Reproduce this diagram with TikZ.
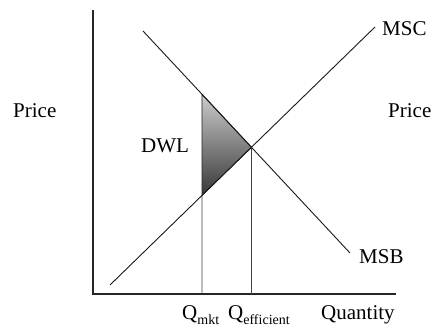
\documentclass[tikz,border=0pt]{standalone}
\usepackage{fontspec}
\setmainfont{Liberation Serif}
\usepackage{tikz}
\usetikzlibrary{positioning}

\newcommand{\lbl}[2]{#1\raisebox{-0.2em}{\fontsize{14}{14}\selectfont #2}}

\begin{document}
\begin{tikzpicture}[
  x=1pt,y=1pt,
  axis/.style={line width=1.2pt,draw=black!85},
  curve/.style={line width=0.9pt,draw=black!90},
  guide/.style={line width=0.9pt,draw=black!75},
  txt/.style={inner sep=0pt,anchor=base west,font=\fontsize{21}{24}\selectfont}
]
  \useasboundingbox (0,0) rectangle (432,331);
  % axes
  \coordinate (o)  at (93,37);
  \coordinate (yt) at (93,321);
  \coordinate (xe) at (396,37);
  \draw[axis] (yt) -- (o) -- (xe);
  % curves
  \coordinate (msc0) at (110,46);
  \coordinate (msc1) at (375,304);
  \coordinate (msb0) at (143,300);
  \coordinate (msb1) at (350,78);
  \coordinate (e) at (intersection of msc0--msc1 and msb0--msb1);
  \coordinate (qm)  at (202,37);
  \coordinate (qmt) at (202,300);
  \coordinate (top) at (intersection of msb0--msb1 and qm--qmt);
  \coordinate (bot) at (intersection of msc0--msc1 and qm--qmt);
  \coordinate (qe) at (e |- o);
  % dead weight loss
  \shade[top color=black!20,bottom color=black!78] (top) -- (e) -- (bot) -- cycle;
  \draw[line width=0.9pt,draw=black!85] (top) -- (e) -- (bot) -- cycle;
  \draw[guide] (qm) -- (bot);
  \draw[guide] (qe) -- (e);
  \draw[curve] (msc0) -- (msc1);
  \draw[curve] (msb0) -- (msb1);
  % labels
  \node[txt] (pl)  at (13,213)  {Price};
  \node[txt] (pr)  at (388,213) {Price};
  \node[txt] (dwl) at (141,178) {DWL};
  \node[txt] (lsc) at (382,295) {MSC};
  \node[txt] (lsb) at (359,67)  {MSB};
  \node[txt] (lqm) at (182,11)  {\lbl{Q}{mkt}};
  \node[txt] (lqe) at (228,11)  {\lbl{Q}{efficient}};
  \node[txt] (lq)  at (321,11)  {Quantity};
\end{tikzpicture}
\end{document}
